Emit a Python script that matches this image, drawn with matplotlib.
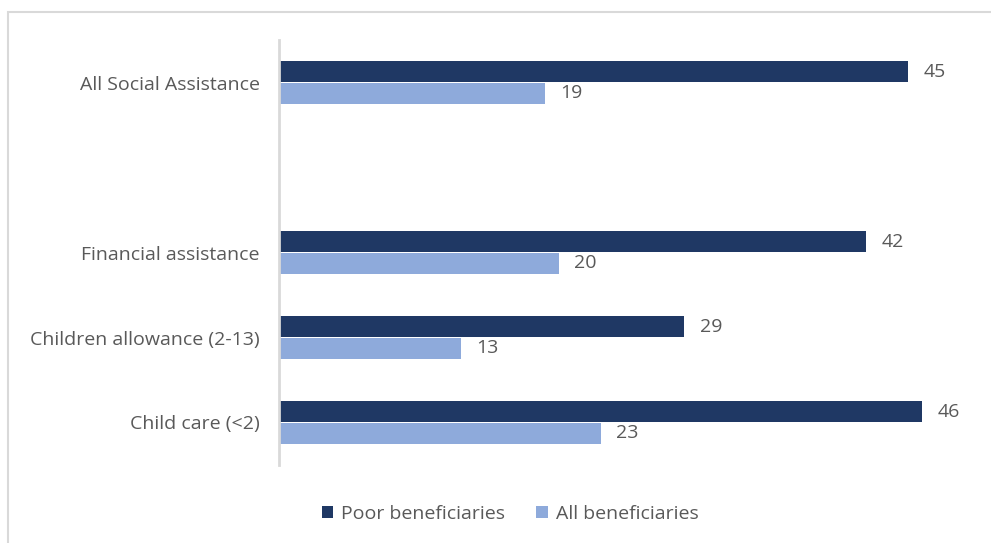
import numpy as np
import matplotlib.pyplot as plt
from matplotlib.patches import Rectangle

plt.rcParams['font.family'] = ['Open Sans', 'DejaVu Sans']

# Data (empty string = blank spacer slot)
categories = ['All Social Assistance', '', 'Financial assistance',
              'Children allowance (2-13)', 'Child care (<2)']
poor = [45, np.nan, 42, 29, 46]
allb = [19, np.nan, 20, 13, 23]

dark = '#1f3864'
light = '#8eaadb'
txt = '#595959'
fs = 14

fig = plt.figure(figsize=(9.91, 5.43), dpi=100)
ax = fig.add_axes([279 / 991, 1 - 465 / 543, 699 / 991, 425 / 543])

y = np.arange(len(categories))
h = 0.25
ax.barh(y - 0.128, poor, height=h, color=dark, label='Poor beneficiaries')
ax.barh(y + 0.128, allb, height=h, color=light, label='All beneficiaries')

for yi, v in zip(y, poor):
    if not np.isnan(v):
        ax.text(v + 1.1, yi - 0.128, f'{v:g}', va='center', ha='left', fontsize=fs, color=txt)
for yi, v in zip(y, allb):
    if not np.isnan(v):
        ax.text(v + 1.1, yi + 0.128, f'{v:g}', va='center', ha='left', fontsize=fs, color=txt)

ax.set_ylim(4.5, -0.5)
ax.set_xlim(0, 50)
ax.set_yticks(y)
ax.set_yticklabels(categories, fontsize=fs, color=txt)
ax.tick_params(axis='y', length=0, pad=14)
ax.set_xticks([])
for s in ['top', 'right', 'bottom']:
    ax.spines[s].set_visible(False)
ax.spines['left'].set_color('#d9d9d9')
ax.spines['left'].set_linewidth(2)

leg = fig.legend(loc='center', bbox_to_anchor=(510 / 991, 1 - 514 / 543), ncol=2,
                 frameon=False, fontsize=fs, handlelength=0.6, handleheight=0.6,
                 columnspacing=1.6, handletextpad=0.4)
for t in leg.get_texts():
    t.set_color(txt)

# outer chart frame (top and left edges visible)
fig.patches.append(Rectangle((8 / 991, -0.1), 1.2, 1 - 12 / 543 + 0.1, transform=fig.transFigure,
                             fill=False, edgecolor='#d9d9d9', linewidth=1.5))

fig.savefig('out.png', dpi=100)
